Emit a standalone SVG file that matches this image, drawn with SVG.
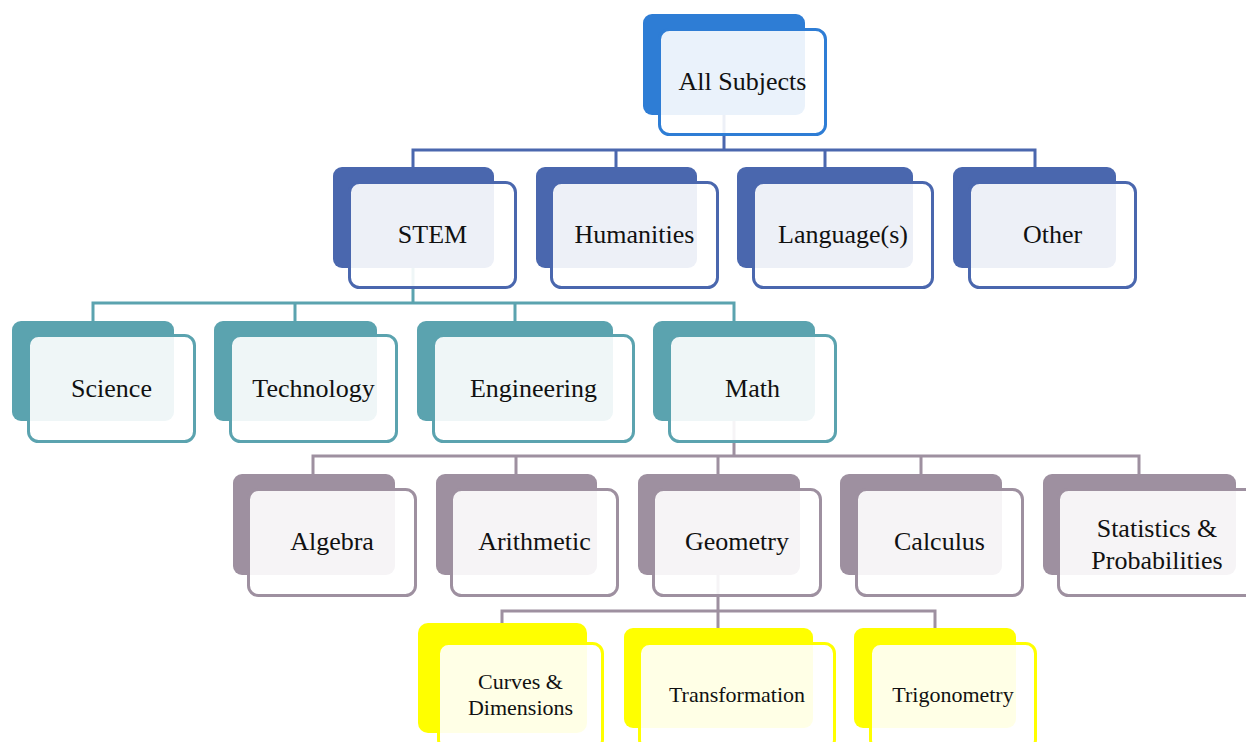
<svg xmlns="http://www.w3.org/2000/svg" width="1246" height="742" viewBox="0 0 1246 742">
<style>
.back{stroke:none}
.front{fill:#fff;fill-opacity:0.9;stroke-width:3}
.c0 .back{fill:#2E7DD5}.c0 .front{stroke:#2E7DD5}
.c1 .back{fill:#4A67AE}.c1 .front{stroke:#4A67AE}
.c2 .back{fill:#5BA3AF}.c2 .front{stroke:#5BA3AF}
.c3 .back{fill:#9E90A0}.c3 .front{stroke:#9E90A0}
.c4 .back{fill:#FFFF00}.c4 .front{stroke:#FFFF00}
text{font-family:"Liberation Serif","DejaVu Serif",serif;font-size:26px;fill:#111;text-anchor:middle}
.sm{font-size:22px}
.conn path{fill:none;stroke-width:3}
</style>
<g id="connectors" class="conn">
<path d="M724,115 V150 M413,167 V150 H1035 V167 M616,150 V167 M825,150 V167" stroke="#4A67AE"/>
<path d="M413,268 V303 M93,321 V303 H734 V321 M295,303 V321 M515,303 V321" stroke="#5BA3AF"/>
<path d="M734,421 V456 M313,474 V456 H1139 V474 M516,456 V474 M718,456 V474 M921,456 V474" stroke="#9E90A0"/>
<path d="M718,575 V611 M502,623 V611 H935 V628 M718,611 V628" stroke="#9E90A0"/>
</g>
<g id="n-all" class="c0"><rect class="back" x="643" y="14" width="162" height="101" rx="9"/><rect class="front" x="659.5" y="29.5" width="166" height="105" rx="10"/><text x="742.5" y="90">All Subjects</text></g>
<g id="n-stem" class="c1"><rect class="back" x="333" y="167" width="161" height="101" rx="9"/><rect class="front" x="349.5" y="182.5" width="166" height="105" rx="10"/><text x="432.5" y="243">STEM</text></g>
<g id="n-hum" class="c1"><rect class="back" x="536" y="167" width="161" height="101" rx="9"/><rect class="front" x="551.5" y="182.5" width="166" height="105" rx="10"/><text x="634.5" y="243">Humanities</text></g>
<g id="n-lang" class="c1"><rect class="back" x="737" y="167" width="176" height="101" rx="9"/><rect class="front" x="753.5" y="182.5" width="179" height="105" rx="10"/><text x="843" y="243">Language(s)</text></g>
<g id="n-other" class="c1"><rect class="back" x="953" y="167" width="163" height="101" rx="9"/><rect class="front" x="969.5" y="182.5" width="166" height="105" rx="10"/><text x="1052.5" y="243">Other</text></g>
<g id="n-sci" class="c2"><rect class="back" x="12" y="321" width="162" height="100" rx="9"/><rect class="front" x="28.5" y="335.5" width="166" height="106" rx="10"/><text x="111.5" y="397">Science</text></g>
<g id="n-tech" class="c2"><rect class="back" x="214" y="321" width="163" height="100" rx="9"/><rect class="front" x="230.5" y="335.5" width="166" height="106" rx="10"/><text x="313.5" y="397">Technology</text></g>
<g id="n-eng" class="c2"><rect class="back" x="417" y="321" width="196" height="100" rx="9"/><rect class="front" x="433.5" y="335.5" width="200" height="106" rx="10"/><text x="533.5" y="397">Engineering</text></g>
<g id="n-math" class="c2"><rect class="back" x="653" y="321" width="162" height="100" rx="9"/><rect class="front" x="669.5" y="335.5" width="166" height="106" rx="10"/><text x="752.5" y="397">Math</text></g>
<g id="n-alg" class="c3"><rect class="back" x="233" y="474" width="162" height="101" rx="9"/><rect class="front" x="248.5" y="489.5" width="167" height="106" rx="10"/><text x="332" y="550">Algebra</text></g>
<g id="n-arith" class="c3"><rect class="back" x="436" y="474" width="161" height="101" rx="9"/><rect class="front" x="451.5" y="489.5" width="166" height="106" rx="10"/><text x="534.5" y="550">Arithmetic</text></g>
<g id="n-geo" class="c3"><rect class="back" x="638" y="474" width="162" height="101" rx="9"/><rect class="front" x="653.5" y="489.5" width="167" height="106" rx="10"/><text x="737" y="550">Geometry</text></g>
<g id="n-calc" class="c3"><rect class="back" x="840" y="474" width="162" height="101" rx="9"/><rect class="front" x="856.5" y="489.5" width="166" height="106" rx="10"/><text x="939.5" y="550">Calculus</text></g>
<g id="n-stats" class="c3"><rect class="back" x="1043" y="474" width="193" height="101" rx="9"/><rect class="front" x="1058.5" y="489.5" width="198" height="106" rx="10"/><text x="1157" y="537">Statistics &amp;</text><text x="1157" y="569">Probabilities</text></g>
<g id="n-curves" class="c4"><rect class="back" x="418" y="623" width="169" height="110" rx="10"/><rect class="front" x="438.5" y="643.5" width="164" height="106" rx="10"/><text class="sm" x="520.5" y="689">Curves &amp;</text><text class="sm" x="520.5" y="715">Dimensions</text></g>
<g id="n-trans" class="c4"><rect class="back" x="624" y="628" width="189" height="100" rx="9"/><rect class="front" x="639.5" y="643.5" width="195" height="106" rx="10"/><text class="sm" x="737" y="702">Transformation</text></g>
<g id="n-trig" class="c4"><rect class="back" x="854" y="628" width="162" height="100" rx="9"/><rect class="front" x="870.5" y="643.5" width="165" height="106" rx="10"/><text class="sm" x="953" y="702">Trigonometry</text></g>
</svg>
